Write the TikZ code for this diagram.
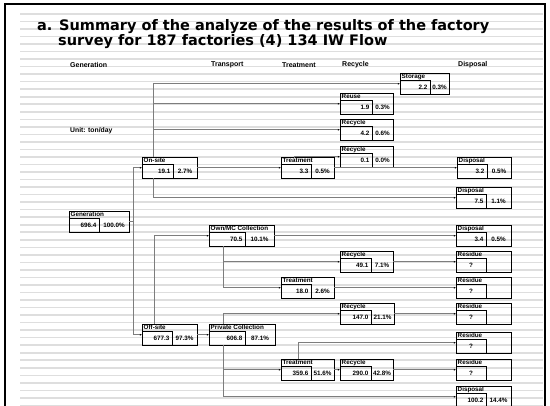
\documentclass[tikz,border=0pt]{standalone}
\usepackage{fontspec}
\setmainfont{Liberation Sans}
\newfontfamily\titlefont{DejaVu Sans}
\usetikzlibrary{arrows.meta,calc}
\definecolor{stripeGray}{RGB}{222,222,222}
\definecolor{flowGray}{RGB}{125,125,125}

% one survey box: name, x, y, width, cell width, label, value, share
\newcommand{\flowbox}[8]{%
  \node[boxframe, minimum width=#4, anchor=north west] (#1) at (#2,#3) {};
  \node[cellframe, minimum width=#5, anchor=south west] (#1-v) at (#1.south west) {};
  \node[boxtext, anchor=base west] (#1-l) at ([xshift=1.5pt, yshift=-6pt]#1.north west) {#6};
  \node[boxtext, anchor=east] (#1-n) at ([xshift=-2.5pt]#1-v.east) {#7};
  \node[boxtext] (#1-p) at ($(#1-v.east)!0.5!(#1-v.east -| #1.east)$) {#8};
}
\newcommand{\residuebox}[3]{%
  \flowbox{#1}{#2}{#3}{55}{30}{Residue}{}{}
  \node[boxtext] (#1-q) at (#1-v.center) {?};
}

\begin{document}
\begin{tikzpicture}[x=1pt, y=-1pt,
  stripe/.style={stripeGray, line width=1.6pt},
  boxframe/.style={draw, line width=0.8pt, minimum height=21.5, inner sep=0pt, outer sep=0pt},
  cellframe/.style={draw, line width=0.8pt, minimum height=14, inner sep=0pt, outer sep=0pt},
  boxtext/.style={font=\bfseries\fontsize{6.3}{7}\selectfont, inner sep=0pt},
  headtext/.style={font=\bfseries\fontsize{7}{8}\selectfont, inner sep=0pt, anchor=west},
  titletext/.style={font=\titlefont\bfseries\fontsize{14.5}{16}\selectfont, inner sep=0pt, anchor=base west},
  flow/.style={flowGray, line width=0.7pt, -{Latex[length=2.2pt, width=2pt, color=black]}}]
  \useasboundingbox (0,0) rectangle (550,406);

  % 1. Lined paper and frame
  \foreach \k in {0,...,52}
    \draw[stripe] (20,13.9+7.53*\k) -- (543,13.9+7.53*\k);
  \draw[line width=2.2pt] (5,4) rectangle (545,415);

  % 2. Title and column heads
  \node[titletext] (title-a) at (37,31) {a. Summary of the analyze of the results of the factory};
  \node[titletext] (title-b) at (58,45.5) {survey for 187 factories (4) 134 IW Flow};
  \node[headtext] (head-gen) at (70,65) {Generation};
  \node[headtext] (head-trans) at (211,65) {Transport};
  \node[headtext] (head-treat) at (282,65) {Treatment};
  \node[headtext] (head-rec) at (342,65) {Recycle};
  \node[headtext] (head-disp) at (458,65) {Disposal};
  \node[headtext, font=\bfseries\fontsize{6.8}{8}\selectfont] (unit) at (70,131) {Unit: ton/day};

  % 3. Boxes
  \flowbox{gen}{69}{211}{60}{30}{Generation}{696.4}{100.0\%}
  \flowbox{onsite}{142}{157}{55}{31}{On-site}{19.1}{2.7\%}
  \flowbox{offsite}{142}{324}{55}{30}{Off-site}{677.3}{97.3\%}
  \flowbox{ownmc}{209}{225}{65}{36}{Own/MC Collection}{70.5}{10.1\%}
  \flowbox{private}{209}{324}{66}{36}{Private Collection}{606.8}{87.1\%}
  \flowbox{treat1}{281}{157}{53}{30}{Treatment}{3.3}{0.5\%}
  \flowbox{treat2}{281}{277}{53}{30}{Treatment}{18.0}{2.6\%}
  \flowbox{treat3}{281}{359}{53}{30}{Treatment}{359.6}{51.6\%}
  \flowbox{storage}{400}{73}{49}{30}{Storage}{2.2}{0.3\%}
  \flowbox{reuse}{340}{93}{53}{32}{Reuse}{1.9}{0.3\%}
  \flowbox{rec1}{340}{119}{53}{32}{Recycle}{4.2}{0.6\%}
  \flowbox{rec2}{340}{146}{53}{32}{Recycle}{0.1}{0.0\%}
  \flowbox{rec3}{340}{251}{53}{31}{Recycle}{49.1}{7.1\%}
  \flowbox{rec4}{340}{303}{54}{31}{Recycle}{147.0}{21.1\%}
  \flowbox{rec5}{340}{359}{53}{31}{Recycle}{290.0}{42.8\%}
  \flowbox{disp1}{457}{157}{54}{30}{Disposal}{3.2}{0.5\%}
  \flowbox{disp2}{456}{187}{55}{30}{Disposal}{7.5}{1.1\%}
  \flowbox{disp3}{456}{225}{55}{30}{Disposal}{3.4}{0.5\%}
  \flowbox{disp4}{456}{386}{55}{30}{Disposal}{100.2}{14.4\%}
  \residuebox{res1}{456}{251}
  \residuebox{res2}{456}{277}
  \residuebox{res3}{456}{303}
  \residuebox{res4}{456}{332}
  \residuebox{res5}{456}{359}

  % 4. Generation split
  \draw[flow] (gen.east) -- ++(4,0) |- (onsite.west);
  \draw[flow] (gen.east) -- ++(4,0) |- (offsite.west);

  % 5. On-site branches
  \draw[flow] ([xshift=11pt]onsite.north west) |- (storage.west);
  \draw[flow] ([xshift=11pt]onsite.north west) |- (reuse.west);
  \draw[flow] ([xshift=11pt]onsite.north west) |- (rec1.west);
  \draw[flow] ([xshift=11pt]onsite.south west) |- (disp2.west);
  \draw[flow] (onsite.east) -- (treat1.west);
  \draw[flow] ([xshift=13pt]treat1.north west) |- (rec2.west);
  \draw[flow] (treat1.east) -- (disp1.west);

  % 6. Off-site branches
  \draw[flow] ([xshift=12pt]offsite.north west) |- (ownmc.west);
  \draw[flow] (offsite.east) -- (private.west);
  \draw[flow] (ownmc.east) -- (disp3.west);
  \draw[flow] ([xshift=14pt]ownmc.south west) |- (rec3.west);
  \draw[flow] ([xshift=14pt]ownmc.south west) |- (treat2.west);
  \draw[flow] (rec3.east) -- (res1.west);
  \draw[flow] (treat2.east) -- (res2.west);
  \draw[flow] ([xshift=14pt]private.north west) |- (rec4.west);
  \draw[flow] (rec4.east) -- (res3.west);
  \draw[flow] ([xshift=14pt]private.south west) |- (treat3.west);
  \draw[flow] ([xshift=14pt]private.south west) |- (disp4.west);
  \draw[flow] ([xshift=17pt]treat3.north west) |- (res4.west);
  \draw[flow] (treat3.east) -- (rec5.west);
  \draw[flow] (rec5.east) -- (res5.west);
\end{tikzpicture}
\end{document}
